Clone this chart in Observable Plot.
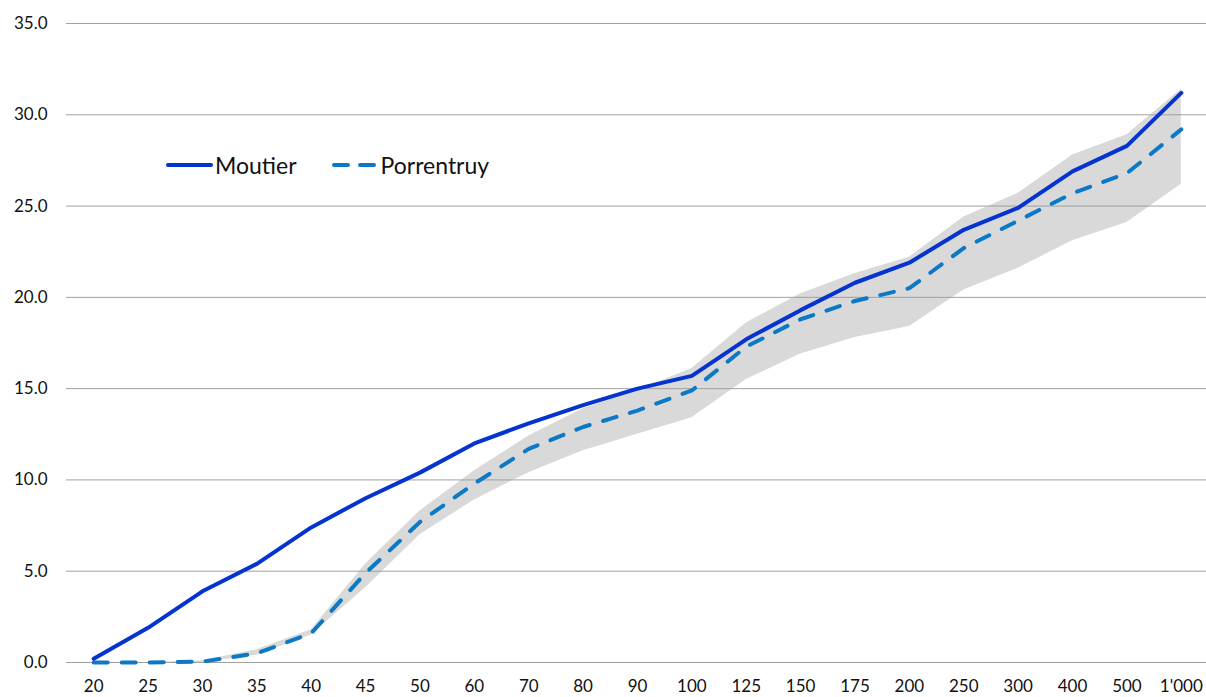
<!DOCTYPE html>
<html>
<head>
<meta charset="utf-8">
<script src="https://cdn.jsdelivr.net/npm/d3@7"></script>
<script src="https://cdn.jsdelivr.net/npm/@observablehq/plot@0.6"></script>
<style>
  html, body { margin: 0; padding: 0; background: #fff; }
  #wrap { position: relative; width: 1206px; height: 697px; font-family: Lato, "Open Sans", sans-serif; overflow: hidden; }
  #legend { position: absolute; left: 166px; top: 151px; display: flex; align-items: center; font-size: 23px; color: #111; }
  #legend .item { display: flex; align-items: center; margin-right: 35px; }
  #legend svg { margin-right: 2px; }
</style>
</head>
<body>
<div id="wrap">
  <div id="chart"></div>
  <div id="legend"></div>
</div>
<script>
const categories = ["20","25","30","35","40","45","50","60","70","80","90","100","125","150","175","200","250","300","400","500","1'000"];
const moutier    = [0.2, 1.9, 3.9, 5.4, 7.4, 9.0, 10.4, 12.0, 13.1, 14.1, 15.0, 15.7, 17.7, 19.3, 20.8, 21.9, 23.7, 24.9, 26.9, 28.3, 31.2];
const porrentruy = [0.0, 0.0, 0.05, 0.5, 1.6, 4.9, 7.7, 9.8, 11.7, 12.9, 13.8, 14.9, 17.3, 18.8, 19.8, 20.5, 22.7, 24.2, 25.7, 26.8, 29.2];
const bandLow    = [0.0, 0.0, 0.0, 0.4, 1.5, 4.1, 7.0, 8.9, 10.4, 11.6, 12.5, 13.4, 15.5, 16.9, 17.8, 18.4, 20.4, 21.6, 23.1, 24.1, 26.2];
const bandHigh   = [0.0, 0.0, 0.1, 0.7, 1.8, 5.4, 8.3, 10.5, 12.4, 13.9, 14.9, 16.1, 18.6, 20.2, 21.3, 22.2, 24.4, 25.7, 27.8, 28.9, 31.4];
const yTicks = [0, 5, 10, 15, 20, 25, 30, 35];
const seriesNames = ["Moutier", "Porrentruy"];
const colors = {Moutier: "#0433cf", Porrentruy: "#0b79c6"};

const rows = categories.map((c, i) => ({cat: c, moutier: moutier[i], porrentruy: porrentruy[i], lo: bandLow[i], hi: bandHigh[i]}));

const chart = Plot.plot({
  width: 1206,
  height: 697,
  marginLeft: 66,
  marginRight: -2,
  marginTop: 23,
  marginBottom: 35,
  style: {fontFamily: "Lato, 'Open Sans', sans-serif", fontSize: "17px", color: "#111", background: "#fff", overflow: "hidden"},
  x: {type: "point", domain: categories, padding: 0.5, round: false, label: null},
  y: {domain: [0, 35], label: null},
  marks: [
    Plot.areaY(rows, {x: "cat", y1: "lo", y2: "hi", fill: "#d9d9d9", curve: "linear"}),
    Plot.gridY(yTicks, {stroke: "#a0a0a0", strokeOpacity: 1, strokeWidth: 1}),
    Plot.lineY(rows, {x: "cat", y: "porrentruy", stroke: colors.Porrentruy, strokeWidth: 4, strokeDasharray: "14,14", strokeLinecap: "round"}),
    Plot.lineY(rows, {x: "cat", y: "moutier", stroke: colors.Moutier, strokeWidth: 4, strokeLinecap: "round", strokeLinejoin: "round"}),
    Plot.axisY({ticks: yTicks, tickFormat: d => d.toFixed(1), tickSize: 0, tickPadding: 19, fontSize: 17, fill: "#111"}),
    Plot.axisX({tickSize: 0, tickPadding: 17, fontSize: 17, fill: "#111"})
  ]
});
document.getElementById("chart").appendChild(chart);

const legend = document.getElementById("legend");
seriesNames.forEach(name => {
  const item = document.createElement("div");
  item.className = "item";
  const dash = name === "Porrentruy" ? 'stroke-dasharray="14,12"' : "";
  item.innerHTML = `<svg width="47" height="10"><line x1="2" y1="5" x2="45" y2="5" stroke="${colors[name]}" stroke-width="4" stroke-linecap="round" ${dash}/></svg><span>${name}</span>`;
  legend.appendChild(item);
});
</script>
</body>
</html>
